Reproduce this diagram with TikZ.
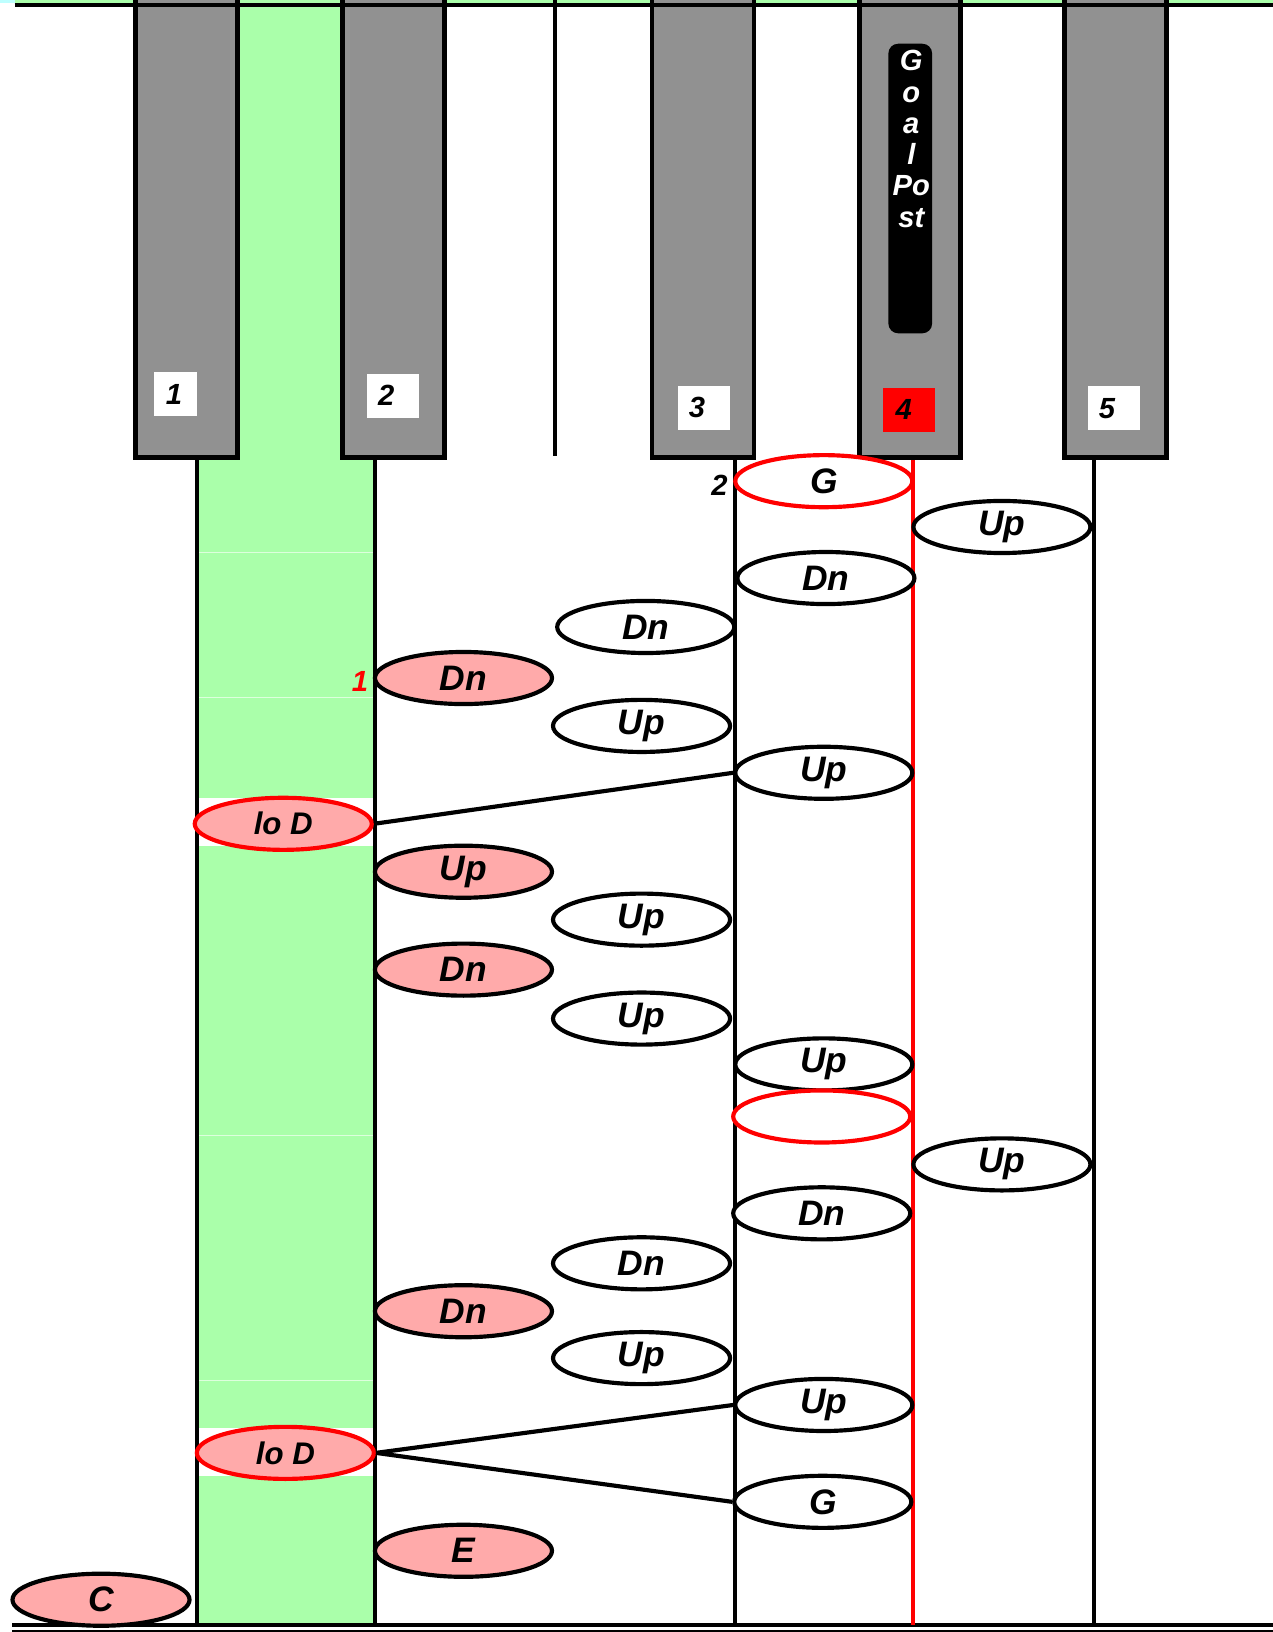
\documentclass[tikz,border=0pt]{standalone}
\usepackage{fontspec}
\setmainfont{Liberation Sans}
\usetikzlibrary{shapes.geometric}
\definecolor{keygray}{RGB}{145,145,145}
\definecolor{bandgreen}{RGB}{170,255,170}
\definecolor{ovalpink}{RGB}{255,170,170}
\definecolor{topcyan}{RGB}{190,255,255}

\tikzset{every picture/.style={line width=0.75pt}}
\tikzset{
  oval/.style={ellipse, draw=black, line width=3pt, fill=white, minimum width=127.5pt, minimum height=37.5pt, inner sep=0pt, font=\fontsize{25.5}{28}\selectfont\bfseries\itshape},
  pinkoval/.style={oval, fill=ovalpink},
  redoval/.style={oval, draw=red},
  lodoval/.style={oval, draw=red, fill=ovalpink, font=\fontsize{22.5}{25}\selectfont\bfseries\itshape},
  keybar/.style={draw=black, fill=keygray, line width=3.5pt},
  keynum/.style={fill=white, minimum width=37.5pt, minimum height=32pt, inner sep=0pt, font=\fontsize{21}{24}\selectfont\bfseries\itshape},
  colline/.style={line width=2.8pt},
  link/.style={line width=3pt}
}

\begin{document}
\begin{tikzpicture}[x=0.75pt,y=0.75pt,yscale=-1,xscale=1]
	\useasboundingbox (0,0) rectangle (1222,1567);

	%Shape: Rectangle [green band]
	\fill [bandgreen] (189,0) rectangle (360,1560) ;
	\fill [bandgreen] (14,0) rectangle (1222,3) ;
	\fill [topcyan] (0,0) rectangle (14,3) ;
	%white gaps behind lo D
	\fill [white] (191,766) rectangle (358,812) ;
	\fill [white] (191,1371) rectangle (358,1417) ;
	%thin lines in the band
	\foreach \yy in {530,670,1090,1325}
		\draw [white, opacity=0.6, line width=0.6pt] (191,\yy) -- (358,\yy) ;

	%Straight Lines [bottom border]
	\draw [line width=3pt] (12,1560) -- (1222,1560) ;
	\draw [line width=1.5pt] (12,1566) -- (1222,1566) ;

	%Straight Lines [columns]
	\draw [colline] (533,0) -- (533,438) ;
	\draw [colline] (189,440) -- (189,1560) ;
	\draw [colline] (360,440) -- (360,1560) ;
	\draw [colline] (706,440) -- (706,1560) ;
	\draw [colline, red] (877,440) -- (877,1560) ;
	\draw [colline] (1050,440) -- (1050,1560) ;

	%Shape: Rectangle [keys]
	\draw [keybar] (130,-10) rectangle (228,439) ;
	\draw [keybar] (329,-10) rectangle (427,439) ;
	\draw [keybar] (626,-10) rectangle (724,439) ;
	\draw [keybar] (825,-10) rectangle (922,439) ;
	\draw [keybar] (1022,-10) rectangle (1120,439) ;
	%Straight Lines [top border]
	\draw [line width=3pt] (14,4.5) -- (1222,4.5) ;

	% Text Node
	\node [keynum, minimum width=30.75pt] (numone) at (168.5,378.5) {1\kern2pt};
	\node [keynum] (numtwo) at (377.5,380) {2\kern10pt};
	\node [keynum] (numthree) at (676,391.5) {3\kern10pt};
	\node [keynum, fill=red] (numfour) at (873,393.5) {4\kern8pt};
	\node [keynum] (numfive) at (1069.5,392) {5\kern10pt};

	%Shape: Rounded Rect [goal post]
	\node [fill=black, rounded corners=7pt, minimum width=31.5pt, minimum height=208.5pt, inner sep=0pt] (goalpost) at (874,181) {};
	\node [anchor=north, align=center, text=white, inner sep=0pt, font=\fontsize{21}{22.5}\selectfont\bfseries\itshape] (goaltext) at (875,48) {G\\o\\a\\l\\Po\\st};

	% Text Node
	\node [oval, draw=red] (gtop) at (791,462) {G};
	\node [anchor=east, inner sep=0pt, font=\fontsize{21}{24}\selectfont\bfseries\itshape] (steptwo) at (699,466) {2};
	\node [oval] (upa) at (962,506) {Up};
	\node [oval] (dna) at (793,555) {Dn};
	\node [oval] (dnb) at (620,602) {Dn};
	\node [pinkoval] (dnc) at (445,651) {Dn};
	\node [anchor=east, inner sep=0pt, text=red, font=\fontsize{21}{24}\selectfont\bfseries\itshape] (stepone) at (354,654) {1};
	\node [oval] (upb) at (616,697) {Up};
	\node [oval] (upc) at (791,742) {Up};
	\node [lodoval] (lodtop) at (272,791) {lo D};
	\node [pinkoval] (upd) at (445,837) {Up};
	\node [oval] (upe) at (616,883) {Up};
	\node [pinkoval] (dnd) at (445,931) {Dn};
	\node [oval] (upf) at (616,978) {Up};
	\node [oval] (upg) at (791,1022) {Up};
	\node [redoval] (blank) at (789,1072) {};
	\node [oval] (uph) at (962,1118) {Up};
	\node [oval] (dne) at (789,1165) {Dn};
	\node [oval] (dnf) at (616,1213) {Dn};
	\node [pinkoval] (dng) at (445,1259) {Dn};
	\node [oval] (upi) at (616,1304) {Up};
	\node [oval] (upj) at (791,1349) {Up};
	\node [lodoval] (lodbot) at (274,1395) {lo D};
	\node [oval] (gbot) at (790,1442) {G};
	\node [pinkoval] (enode) at (445,1489) {E};
	\node [pinkoval] (cnode) at (97,1536) {C};

	% Connection
	\draw [link] (lodtop.east) -- (upc.west) ;
	\draw [link] (lodbot.east) -- (upj.west) ;
	\draw [link] (lodbot.east) -- (gbot.west) ;

\end{tikzpicture}
\end{document}
